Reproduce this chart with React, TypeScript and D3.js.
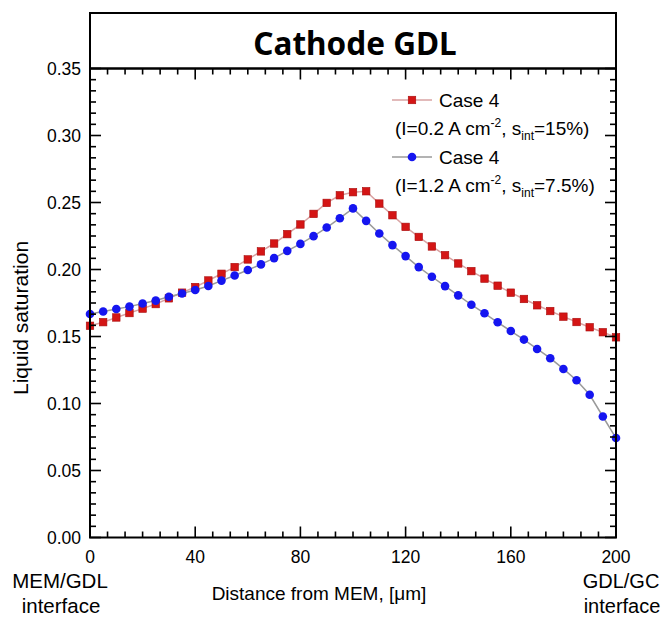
import React from 'react'
import * as d3 from 'd3'

// distance from membrane, µm (every 5 µm)
const distances = d3.range(0, 201, 5)

// Case 4, I=0.2 A cm-2, s_int=15%
const lowCurrent = [
  0.158, 0.1607, 0.1642, 0.1675, 0.1708, 0.1742, 0.1785, 0.1827, 0.1869, 0.1918,
  0.1968, 0.2018, 0.2075, 0.2135, 0.2194, 0.2264, 0.2336, 0.2415, 0.2497, 0.2554,
  0.2577, 0.2584, 0.2492, 0.2405, 0.2318, 0.2243, 0.2172, 0.2107, 0.2045, 0.1988,
  0.1932, 0.1879, 0.1827, 0.178, 0.1733, 0.169, 0.1648, 0.1608, 0.1569, 0.1532,
  0.1494,
]

// Case 4, I=1.2 A cm-2, s_int=7.5%
const highCurrent = [
  0.1668, 0.1687, 0.1705, 0.1723, 0.1746, 0.1768, 0.1797, 0.1821, 0.1847, 0.1877,
  0.1917, 0.1955, 0.1996, 0.2038, 0.2085, 0.2139, 0.2191, 0.2249, 0.2313, 0.2383,
  0.2456, 0.2363, 0.2269, 0.2182, 0.21, 0.2018, 0.1946, 0.1876, 0.1807, 0.1737,
  0.1673, 0.1606, 0.1541, 0.1477, 0.1407, 0.1338, 0.1258, 0.1174, 0.1065, 0.0903,
  0.0742,
]

const xTicks = [0, 40, 80, 120, 160, 200]
const yTicks = [0, 0.05, 0.1, 0.15, 0.2, 0.25, 0.3, 0.35]

const W = 662
const H = 622
const left = 90
const right = 616
const top = 68.5
const bottom = 537.5
const font = 'Liberation Sans, Arial, sans-serif'

export default function App() {
  const x = d3.scaleLinear().domain([0, 200]).range([left, right])
  const y = d3.scaleLinear().domain([0, 0.35]).range([bottom, top])

  const line = d3
    .line<number>()
    .x((_, i) => x(distances[i]))
    .y(d => y(d))

  // 5 minor ticks between each labelled tick
  const xMinor = d3.range(0, 200.001, 40 / 6)
  const yMinor = d3.range(0, 0.35001, 0.05 / 6)

  return (
    <svg width={W} height={H} style={{ position: 'absolute', left: 0, top: 0 }} fontFamily={font}>
      <rect width={W} height={H} fill="white" />

      {/* title box */}
      <rect x={left} y={13} width={right - left} height={top - 13} fill="white" stroke="black" strokeWidth={2} />
      <text x={(left + right) / 2 + 2} y={55} textAnchor="middle" fontFamily="Noto Sans, sans-serif"
        fontWeight="bold" fontSize={31.5}>Cathode GDL</text>

      {/* data */}
      <path d={line(lowCurrent) || ''} fill="none" stroke="#d9a3a3" strokeWidth={1.5} />
      <path d={line(highCurrent) || ''} fill="none" stroke="#9a9a9a" strokeWidth={1.5} />
      {lowCurrent.map((v, i) => (
        <rect key={`r${i}`} x={x(distances[i]) - 3.75} y={y(v) - 3.75} width={7.5} height={7.5}
          fill="#d41515" stroke="#a80d0d" strokeWidth={0.6} />
      ))}
      {highCurrent.map((v, i) => (
        <circle key={`b${i}`} cx={x(distances[i])} cy={y(v)} r={4.3} fill="#1515f0" />
      ))}

      {/* frame and ticks */}
      <rect x={left} y={top} width={right - left} height={bottom - top} fill="none" stroke="black" strokeWidth={2} />
      {xMinor.map((t, i) => {
        const len = i % 6 === 0 ? 11 : 6
        return (
          <g key={`xt${i}`} stroke="black" strokeWidth={1.6}>
            <line x1={x(t)} x2={x(t)} y1={bottom} y2={bottom - len} />
            <line x1={x(t)} x2={x(t)} y1={top} y2={top + len} />
          </g>
        )
      })}
      {yMinor.map((t, i) => {
        const len = i % 6 === 0 ? 11 : 6
        return (
          <g key={`yt${i}`} stroke="black" strokeWidth={1.6}>
            <line x1={left} x2={left + len} y1={y(t)} y2={y(t)} />
            <line x1={right} x2={right - len} y1={y(t)} y2={y(t)} />
          </g>
        )
      })}

      {/* tick labels */}
      {xTicks.map(t => (
        <text key={`xl${t}`} x={x(t)} y={563} textAnchor="middle" fontSize={17.5}>{t}</text>
      ))}
      {yTicks.map(t => (
        <text key={`yl${t}`} x={81} y={y(t) + 6} textAnchor="end" fontSize={17.5}>{t.toFixed(2)}</text>
      ))}

      {/* axis titles */}
      <text x={319} y={600} textAnchor="middle" fontSize={19}>Distance from MEM, [μm]</text>
      <text x={60} y={588} textAnchor="middle" fontSize={20.5}>MEM/GDL</text>
      <text x={61} y={613} textAnchor="middle" fontSize={20.5}>interface</text>
      <text x={621} y={588} textAnchor="middle" fontSize={20}>GDL/GC</text>
      <text x={622} y={613} textAnchor="middle" fontSize={20}>interface</text>
      <text transform="translate(28,318) rotate(-90)" textAnchor="middle" fontSize={21}>Liquid saturation</text>

      {/* legend */}
      <line x1={392} x2={432} y1={100} y2={100} stroke="#d9a3a3" strokeWidth={1.5} />
      <rect x={408.25} y={96.25} width={7.5} height={7.5} fill="#d41515" stroke="#a80d0d" strokeWidth={0.6} />
      <text x={439} y={107} fontSize={19}>Case 4</text>
      <text x={395} y={135} fontSize={19}>
        (I=0.2 A cm<tspan dy={-8} fontSize={12}>-2</tspan><tspan dy={8}>, s</tspan>
        <tspan dy={5} fontSize={12}>int</tspan><tspan dy={-5}>=15%)</tspan>
      </text>
      <line x1={392} x2={432} y1={157} y2={157} stroke="#9a9a9a" strokeWidth={1.5} />
      <circle cx={412} cy={157} r={4.3} fill="#1515f0" />
      <text x={439} y={164} fontSize={19}>Case 4</text>
      <text x={395} y={192} fontSize={19}>
        (I=1.2 A cm<tspan dy={-8} fontSize={12}>-2</tspan><tspan dy={8}>, s</tspan>
        <tspan dy={5} fontSize={12}>int</tspan><tspan dy={-5}>=7.5%)</tspan>
      </text>
    </svg>
  )
}
